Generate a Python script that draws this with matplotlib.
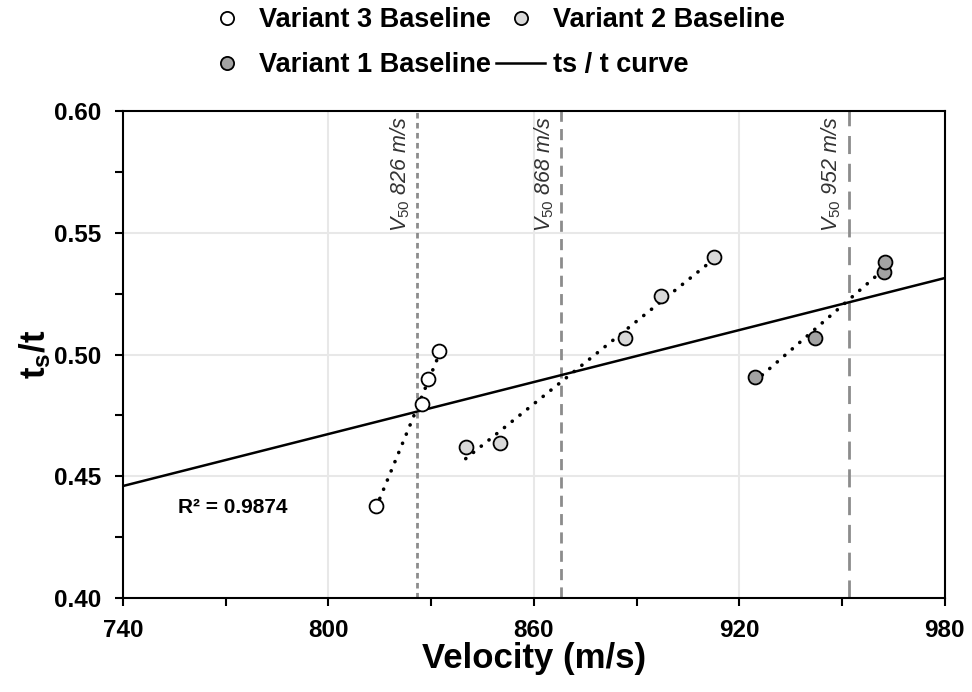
import numpy as np
import matplotlib
matplotlib.use("Agg")
import matplotlib.pyplot as plt
from matplotlib.lines import Line2D

plt.rcParams["font.family"] = ["Liberation Sans", "DejaVu Sans"]
plt.rcParams["mathtext.fontset"] = "custom"
plt.rcParams["mathtext.rm"] = "Liberation Sans"
plt.rcParams["mathtext.it"] = "Liberation Sans:italic"
plt.rcParams["mathtext.bf"] = "Liberation Sans:bold"

# veriler
v3_vel = [813.9, 827.3, 829.1, 832.3]
v3_ts = [0.4378, 0.4797, 0.4899, 0.5014]
v2_vel = [840.1, 850.1, 886.6, 897.1, 912.6]
v2_ts = [0.4620, 0.4637, 0.5068, 0.5240, 0.5400]
v1_vel = [924.5, 942.0, 962.2, 962.5]
v1_ts = [0.4908, 0.5068, 0.5339, 0.5380]

curve_x = [740, 980]
curve_y = [0.446, 0.5314]
r2_text = "R² = 0.9874"

v50_values = [826, 868, 952]
v50_dashes = [(2.0, 1.6), (4.0, 2.6), (6.5, 3.5)]

groups = [
    ("Variant 3 Baseline", v3_vel, v3_ts, "white"),
    ("Variant 2 Baseline", v2_vel, v2_ts, "#d9d9d9"),
    ("Variant 1 Baseline", v1_vel, v1_ts, "#a3a3a3"),
]

fig = plt.figure(figsize=(9.72, 6.92), dpi=100)
ax = fig.add_axes([0.1265, 0.1358, 0.8455, 0.7038])

# grid
for gx in [800, 860, 920]:
    ax.axvline(gx, color="#e8e8e8", lw=1.5, zorder=0)
for gy in [0.45, 0.50, 0.55]:
    ax.axhline(gy, color="#e8e8e8", lw=1.5, zorder=0)

# V50 cizgileri
for v, d in zip(v50_values, v50_dashes):
    ax.axvline(v, color="#8c8c8c", lw=2.0, dashes=d, zorder=1)
    ax.text(v - 1.6, 0.598, r"$V_{50}$ " + f"{v} m/s", rotation=90,
            ha="right", va="top", fontsize=15.5, style="italic", color="#333333")

# ts/t egrisi
ax.plot(curve_x, curve_y, color="black", lw=1.8, zorder=2)

# her grup icin nokta + noktali lineer fit
handles = {}
for name, xs, ys, col in groups:
    xs = np.array(xs)
    ys = np.array(ys)
    k, b = np.polyfit(xs, ys, 1)
    xx = np.array([xs.min(), xs.max()])
    ax.plot(xx, k * xx + b, color="black", lw=2.6, ls=(0, (0.05, 2.7)),
            dash_capstyle="round", zorder=3)
    ax.scatter(xs, ys, s=100, facecolor=col, edgecolor="black", linewidth=1.3, zorder=4)
    handles[name] = Line2D([], [], ls="none", marker="o", markersize=9.5,
                           markerfacecolor=col, markeredgecolor="black", markeredgewidth=1.3)

ax.text(756, 0.437, r2_text, fontsize=15, fontweight="bold", va="center", ha="left")

ax.set_xlim(740, 980)
ax.set_ylim(0.40, 0.60)
ax.set_xticks([740, 800, 860, 920, 980])
ax.set_xticks([770, 830, 890, 950], minor=True)
ax.set_yticks([0.40, 0.45, 0.50, 0.55, 0.60])
ax.set_yticks([0.425, 0.475, 0.525, 0.575], minor=True)
ax.set_yticklabels(["0.40", "0.45", "0.50", "0.55", "0.60"])
ax.tick_params(which="both", direction="out", length=6, width=1.5, labelsize=17.5)
ax.tick_params(axis="y", pad=9.5)
ax.tick_params(axis="x", pad=9)
for lbl in ax.get_xticklabels() + ax.get_yticklabels():
    lbl.set_fontweight("bold")
for sp in ax.spines.values():
    sp.set_linewidth(1.5)

ax.set_xlabel("Velocity (m/s)", fontsize=25, fontweight="bold", labelpad=0)
ax.set_ylabel(r"$\mathbf{t_s/t}$", fontsize=25, labelpad=1)

curve_handle = Line2D([], [], color="black", lw=1.8)
leg_handles = [handles["Variant 3 Baseline"], handles["Variant 1 Baseline"],
               handles["Variant 2 Baseline"], curve_handle]
leg_labels = ["Variant 3 Baseline", "Variant 1 Baseline", "Variant 2 Baseline", "ts / t curve"]
leg = fig.legend(leg_handles, leg_labels, ncol=2, loc="upper left",
                 bbox_to_anchor=(0.183, 1.025), frameon=False,
                 prop={"weight": "bold", "size": 19.5}, handlelength=1.8,
                 handletextpad=0.3, columnspacing=0.2, labelspacing=0.7)

fig.savefig("out.png", dpi=100)
